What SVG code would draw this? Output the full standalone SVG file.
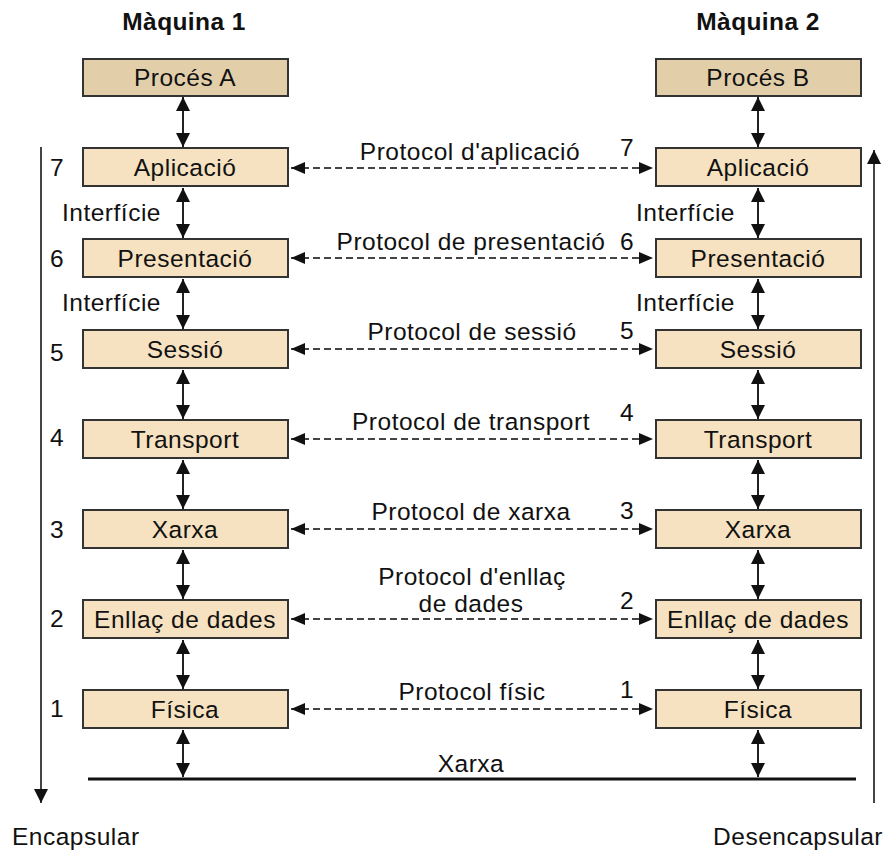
<svg xmlns="http://www.w3.org/2000/svg" width="888" height="856" viewBox="0 0 888 856">
<style>
text{font-family:"Liberation Sans",Arial,sans-serif;font-size:24.5px;fill:#111;letter-spacing:0.5px}
.t{font-weight:bold;letter-spacing:0.4px}
.c{text-anchor:middle}
.e{text-anchor:end}
.proc{fill:#e2cfaa;stroke:#333;stroke-width:2}
.lay{fill:#f6e2c0;stroke:#333;stroke-width:2}
.v{stroke:#222;stroke-width:2;fill:none;marker-start:url(#ah);marker-end:url(#ah)}
.d{stroke:#444;stroke-width:2;stroke-dasharray:7 4;fill:none;marker-start:url(#ah2);marker-end:url(#ah2)}
.side{stroke:#444;stroke-width:2;fill:none;marker-end:url(#ah)}
</style>
<defs>
<marker id="ah" viewBox="0 0 14 14" refX="14" refY="7" markerWidth="14" markerHeight="14" markerUnits="userSpaceOnUse" orient="auto-start-reverse"><path d="M0,0 L14,7 L0,14 z" fill="#111"/></marker>
<marker id="ah2" viewBox="0 0 14 12" refX="14" refY="6" markerWidth="14" markerHeight="12" markerUnits="userSpaceOnUse" orient="auto-start-reverse"><path d="M0,0 L14,6 L0,12 z" fill="#111"/></marker>
</defs>
<rect width="888" height="856" fill="#fff"/>
<text class="t c" x="184" y="30">Màquina 1</text>
<text class="t c" x="758" y="30">Màquina 2</text>

<g id="procA"><rect class="proc" x="83" y="59" width="205" height="37"/><text class="c" x="185" y="86">Procés A</text></g>
<g id="procB"><rect class="proc" x="656" y="59" width="205" height="37"/><text class="c" x="758" y="86">Procés B</text></g>

<g id="app1"><rect class="lay" x="83" y="148" width="205" height="38"/><text class="c" x="185" y="176">Aplicació</text></g>
<g id="pres1"><rect class="lay" x="83" y="239" width="205" height="38"/><text class="c" x="185" y="267">Presentació</text></g>
<g id="ses1"><rect class="lay" x="83" y="330" width="205" height="38"/><text class="c" x="185" y="358">Sessió</text></g>
<g id="tra1"><rect class="lay" x="83" y="420" width="205" height="38"/><text class="c" x="185" y="448">Transport</text></g>
<g id="xar1"><rect class="lay" x="83" y="510" width="205" height="38"/><text class="c" x="185" y="538">Xarxa</text></g>
<g id="enl1"><rect class="lay" x="83" y="600" width="205" height="38"/><text class="c" x="185" y="628">Enllaç de dades</text></g>
<g id="fis1"><rect class="lay" x="83" y="690" width="205" height="38"/><text class="c" x="185" y="718">Física</text></g>

<g id="app2"><rect class="lay" x="656" y="148" width="205" height="38"/><text class="c" x="758" y="176">Aplicació</text></g>
<g id="pres2"><rect class="lay" x="656" y="239" width="205" height="38"/><text class="c" x="758" y="267">Presentació</text></g>
<g id="ses2"><rect class="lay" x="656" y="330" width="205" height="38"/><text class="c" x="758" y="358">Sessió</text></g>
<g id="tra2"><rect class="lay" x="656" y="420" width="205" height="38"/><text class="c" x="758" y="448">Transport</text></g>
<g id="xar2"><rect class="lay" x="656" y="510" width="205" height="38"/><text class="c" x="758" y="538">Xarxa</text></g>
<g id="enl2"><rect class="lay" x="656" y="600" width="205" height="38"/><text class="c" x="758" y="628">Enllaç de dades</text></g>
<g id="fis2"><rect class="lay" x="656" y="690" width="205" height="38"/><text class="c" x="758" y="718">Física</text></g>

<g id="net"><line x1="88" y1="779" x2="856" y2="779" stroke="#111" stroke-width="3"/><text class="c" x="471" y="772">Xarxa</text></g>

<g id="connectors">
<line class="v" x1="183" y1="97" x2="183" y2="147"/>
<line class="v" x1="183" y1="188" x2="183" y2="238"/>
<line class="v" x1="183" y1="279" x2="183" y2="329"/>
<line class="v" x1="183" y1="370" x2="183" y2="419"/>
<line class="v" x1="183" y1="460" x2="183" y2="509"/>
<line class="v" x1="183" y1="550" x2="183" y2="599"/>
<line class="v" x1="183" y1="640" x2="183" y2="689"/>
<line class="v" x1="183" y1="730" x2="183" y2="777"/>
<line class="v" x1="758" y1="97" x2="758" y2="147"/>
<line class="v" x1="758" y1="188" x2="758" y2="238"/>
<line class="v" x1="758" y1="279" x2="758" y2="329"/>
<line class="v" x1="758" y1="370" x2="758" y2="419"/>
<line class="v" x1="758" y1="460" x2="758" y2="509"/>
<line class="v" x1="758" y1="550" x2="758" y2="599"/>
<line class="v" x1="758" y1="640" x2="758" y2="689"/>
<line class="v" x1="758" y1="730" x2="758" y2="777"/>
<line class="d" x1="291" y1="168" x2="653" y2="168"/>
<line class="d" x1="291" y1="258" x2="653" y2="258"/>
<line class="d" x1="291" y1="349" x2="653" y2="349"/>
<line class="d" x1="291" y1="439" x2="653" y2="439"/>
<line class="d" x1="291" y1="529" x2="653" y2="529"/>
<line class="d" x1="291" y1="619" x2="653" y2="619"/>
<line class="d" x1="291" y1="709" x2="653" y2="709"/>
<line class="side" x1="41" y1="147" x2="41" y2="803"/>
<line class="side" x1="874" y1="803" x2="874" y2="150"/>
</g>

<g id="labels">
<text class="c" x="470" y="160">Protocol d'aplicació</text>
<text class="c" x="471" y="250">Protocol de presentació</text>
<text class="c" x="472" y="340">Protocol de sessió</text>
<text class="c" x="471" y="430">Protocol de transport</text>
<text class="c" x="471" y="520">Protocol de xarxa</text>
<text class="c" x="472" y="585">Protocol d'enllaç</text>
<text class="c" x="471" y="612">de dades</text>
<text class="c" x="472" y="700">Protocol físic</text>
<text x="62" y="221">Interfície</text>
<text x="62" y="311">Interfície</text>
<text x="636" y="221">Interfície</text>
<text x="636" y="311">Interfície</text>
<text class="c" x="57" y="176">7</text>
<text class="c" x="57" y="267">6</text>
<text class="c" x="57" y="361">5</text>
<text class="c" x="57" y="446">4</text>
<text class="c" x="57" y="538">3</text>
<text class="c" x="57" y="627">2</text>
<text class="c" x="57" y="717">1</text>
<text class="c" x="627" y="156">7</text>
<text class="c" x="627" y="250">6</text>
<text class="c" x="627" y="339">5</text>
<text class="c" x="627" y="421">4</text>
<text class="c" x="627" y="519">3</text>
<text class="c" x="627" y="609">2</text>
<text class="c" x="627" y="698">1</text>
<text x="12" y="845">Encapsular</text>
<text class="e" x="883" y="845">Desencapsular</text>
</g>
</svg>
